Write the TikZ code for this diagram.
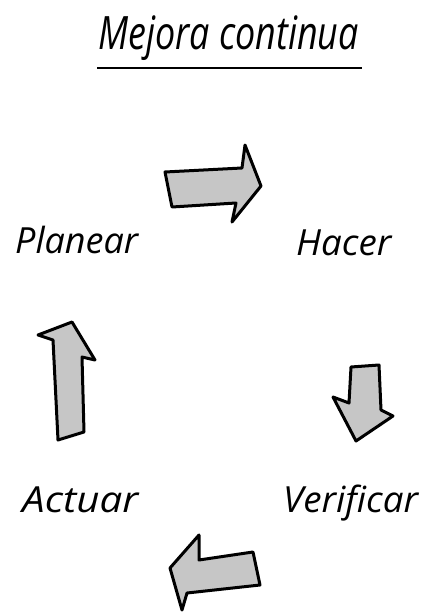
\documentclass[tikz,border=0pt]{standalone}
\usepackage{fontspec}
\setmainfont{Open Sans}
\begin{document}
\begin{tikzpicture}[x=1pt,y=-1pt,
  blockarrow/.style={fill=gray!45, draw=black, line width=3pt, line join=round},
  lbl/.style={font=\itshape\fontsize{36}{42}\selectfont, inner sep=0pt, anchor=base west},
  ttl/.style={font=\itshape\fontsize{46}{52}\selectfont, inner sep=0pt, anchor=base west},
  uline/.style={line width=1.8pt}]
\useasboundingbox (0,0) rectangle (429,612);
% title
\node[ttl] (title) at (98,50) {\scalebox{0.78}[1]{Mejora continua}};
\coordinate (ul1) at (97,68);
\coordinate (ul2) at (362,68);
\draw[uline] (ul1) -- (ul2);
% labels
\node[lbl] (planear) at (15,253) {Planear};
\node[lbl] (hacer) at (296,255) {\scalebox{1.02}[1]{Hacer}};
\node[lbl] (actuar) at (22,512) {\scalebox{1.12}[1]{Actuar}};
\node[lbl] (verificar) at (283,512) {\scalebox{1.02}[1]{Verificar}};
% arrows
\draw[blockarrow] (165,172) -- (242,168) -- (245,145) -- (261,186) -- (232,222) -- (236,203) -- (172,207) -- cycle;
\draw[blockarrow] (351,367) -- (379,365) -- (381,410) -- (393,416) -- (356,441) -- (333,397) -- (349,403) -- cycle;
\draw[blockarrow] (199,535) -- (199,560) -- (253,552) -- (260,585) -- (187,593) -- (182,610) -- (170,568) -- cycle;
\draw[blockarrow] (72,322) -- (95,360) -- (82,357) -- (84,432) -- (58,440) -- (53,340) -- (38,335) -- cycle;
\end{tikzpicture}
\end{document}
